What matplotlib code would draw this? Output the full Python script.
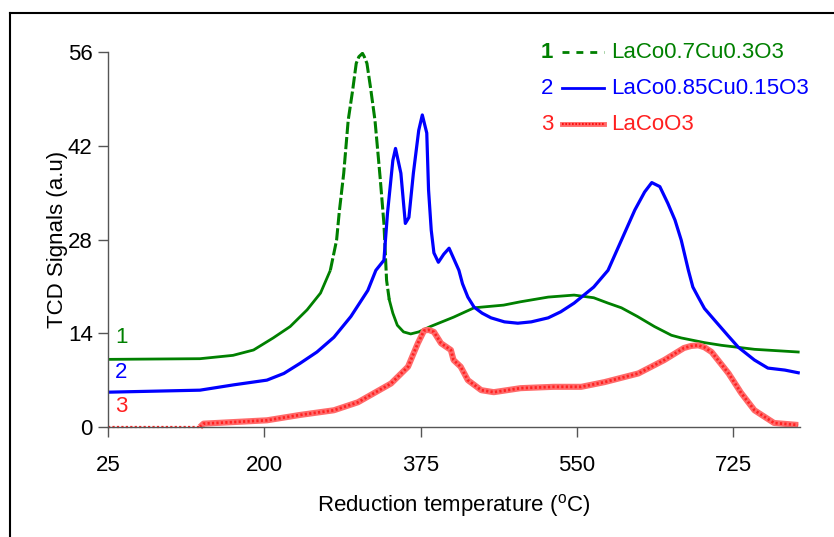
import matplotlib
matplotlib.use("Agg")
import matplotlib.pyplot as plt
import numpy as np
from matplotlib.lines import Line2D

plt.rcParams['font.family'] = ['Liberation Sans', 'DejaVu Sans']

# TPR profiles, temperature in degC
green_t = [25, 128, 165, 188, 210, 229, 248, 263, 274, 281, 284, 289, 294, 299, 303,
           306, 310, 312, 315, 319, 324, 328, 330, 334, 337, 340, 344, 349, 356, 364,
           373, 386, 412, 435, 468, 487, 518, 547, 569, 585, 600, 618, 637, 656, 667,
           693, 712, 749, 798]
green = [10.1, 10.2, 10.7, 11.5, 13.3, 15.0, 17.5, 20.0, 23.4, 27.9, 32.1, 37.9, 45.8,
         50.3, 54.3, 55.3, 55.8, 55.3, 54.3, 50.7, 45.8, 39.9, 36.9, 30.4, 21.9, 19.0,
         17.0, 15.2, 14.2, 13.9, 14.2, 15.0, 16.4, 17.8, 18.2, 18.7, 19.4, 19.7, 19.3,
         18.5, 17.8, 16.5, 15.0, 13.7, 13.3, 12.6, 12.2, 11.6, 11.2]

blue_t = [25, 128, 166, 203, 222, 240, 259, 278, 297, 316, 325, 334, 338, 344, 347, 353,
          358, 362, 367, 373, 377, 382, 384, 387, 390, 395, 401, 407, 418, 422, 428, 435,
          444, 454, 469, 484, 499, 518, 532, 547, 569, 585, 600, 615, 626, 634, 643, 652,
          660, 667, 675, 680, 686, 693, 704, 719, 731, 749, 764, 783, 798]
blue = [5.2, 5.5, 6.3, 7.0, 8.0, 9.5, 11.2, 13.4, 16.5, 20.4, 23.4, 24.9, 31.9, 39.8,
        41.6, 37.9, 30.4, 31.3, 37.9, 44.3, 46.6, 43.9, 35.4, 29.4, 26.0, 24.6, 25.8,
        26.7, 23.4, 21.4, 19.4, 17.9, 17.0, 16.3, 15.7, 15.5, 15.7, 16.3, 17.2, 18.5,
        20.9, 23.4, 27.9, 32.4, 35.1, 36.5, 35.9, 33.4, 30.9, 27.9, 23.4, 20.9, 19.4,
        17.7, 16.0, 13.7, 11.9, 10.0, 8.8, 8.5, 8.1]

red_t = [25, 128, 132, 203, 240, 278, 305, 342, 361, 372, 379, 384, 390, 398, 409, 412,
         420, 428, 443, 457, 487, 524, 555, 581, 619, 648, 670, 678, 686, 693, 701, 720,
         734, 749, 771, 798]
red = [0.0, 0.0, 0.5, 1.0, 1.8, 2.5, 3.7, 6.5, 9.0, 12.5, 14.4, 14.5, 14.2, 12.5, 11.5,
       10.0, 9.0, 7.0, 5.5, 5.2, 5.8, 6.0, 6.0, 6.7, 8.0, 10.0, 11.8, 12.1, 12.2, 11.9,
       11.2, 8.0, 5.1, 2.5, 0.6, 0.3]

names = ['LaCo0.7Cu0.3O3', 'LaCo0.85Cu0.15O3', 'LaCoO3']
xticks = [25, 200, 375, 550, 725]
yticks = [0, 14, 28, 42, 56]

GREEN = '#008000'
BLUE = '#0000ff'
RED = '#ff2020'

fig = plt.figure(figsize=(8.34, 5.37), dpi=100)
ax = fig.add_axes([108 / 834, 1 - 427 / 537, 692 / 834, 375 / 537])

gt = np.array(green_t)
gy = np.array(green)
steep = (gt >= 274) & (gt <= 340)
i0 = np.argmax(steep)
i1 = len(gt) - np.argmax(steep[::-1])
# flat parts solid, the sharp peak dashed
ax.plot(gt[:i0 + 1], gy[:i0 + 1], color=GREEN, lw=2.0, solid_capstyle='butt')
ax.plot(gt[i0:i1], gy[i0:i1], color=GREEN, lw=2.2, dashes=(4, 1))
ax.plot(gt[i1 - 1:], gy[i1 - 1:], color=GREEN, lw=2.0)

ax.plot(blue_t, blue, color=BLUE, lw=2.3)

rt = np.array(red_t)
ry = np.array(red)
ax.plot(rt[:3], ry[:3], color=RED, lw=1.6, dashes=(1, 1), clip_on=False)
ax.plot(rt[1:], ry[1:], color='#ff6a6a', lw=4.4, solid_capstyle='butt', clip_on=False)
ax.plot(rt[1:], ry[1:], color='#ff1010', lw=2.0, dashes=(0.8, 0.8), alpha=0.8, clip_on=False)

ax.set_xlim(25, 800)
ax.set_ylim(0, 56)
ax.set_xticks(xticks)
ax.set_yticks(yticks)
ax.tick_params(labelsize=16, length=7, width=1, color='#555555', pad=4)
ax.tick_params(axis='x', pad=13)
for s in ['top', 'right']:
    ax.spines[s].set_visible(False)
for s in ['left', 'bottom']:
    ax.spines[s].set_color('#555555')
    ax.spines[s].set_linewidth(1)

ax.set_ylabel('TCD Signals (a.u)', fontsize=16, labelpad=0)
ax.set_xlabel('Reduction temperature ($^{\\mathregular{o}}$C)', fontsize=16, labelpad=12)

# curve numbers on the left
ax.text(40, 13.3, '1', color=GREEN, fontsize=16, ha='center', va='center')
ax.text(40, 8.2, '2', color=BLUE, fontsize=16, ha='center', va='center')
ax.text(40, 3.0, '3', color=RED, fontsize=16, ha='center', va='center')

# legend drawn by hand: number, line sample, name
leg_y = [52 / 537, 88 / 537, 124 / 537]
cols = [GREEN, BLUE, RED]
for k in range(3):
    y = 1 - leg_y[k]
    fig.text(547 / 834, y, str(k + 1), color=cols[k], fontsize=16, ha='center', va='center',
             fontweight='bold' if k == 0 else 'normal')
    xs = [562 / 834, 604 / 834]
    if k == 0:
        fig.add_artist(Line2D(xs, [y, y], color=GREEN, lw=2.0, dashes=(2.5, 2.5)))
    elif k == 1:
        fig.add_artist(Line2D(xs, [y, y], color=BLUE, lw=2.0))
    else:
        fig.add_artist(Line2D(xs, [y, y], color='#ff6a6a', lw=3.5))
        fig.add_artist(Line2D(xs, [y, y], color='#ff1010', lw=1.5, dashes=(0.8, 0.8)))
    fig.text(611 / 834, y, names[k], color=cols[k], fontsize=16, ha='left', va='center')

# outer frame (top and left edges)
fig.add_artist(Line2D([9.5 / 834, 9.5 / 834], [0, 1 - 13 / 537], color='black', lw=1.5))
fig.add_artist(Line2D([9.5 / 834, 1], [1 - 13 / 537, 1 - 13 / 537], color='black', lw=1.5))

fig.savefig('out.png', dpi=100)
